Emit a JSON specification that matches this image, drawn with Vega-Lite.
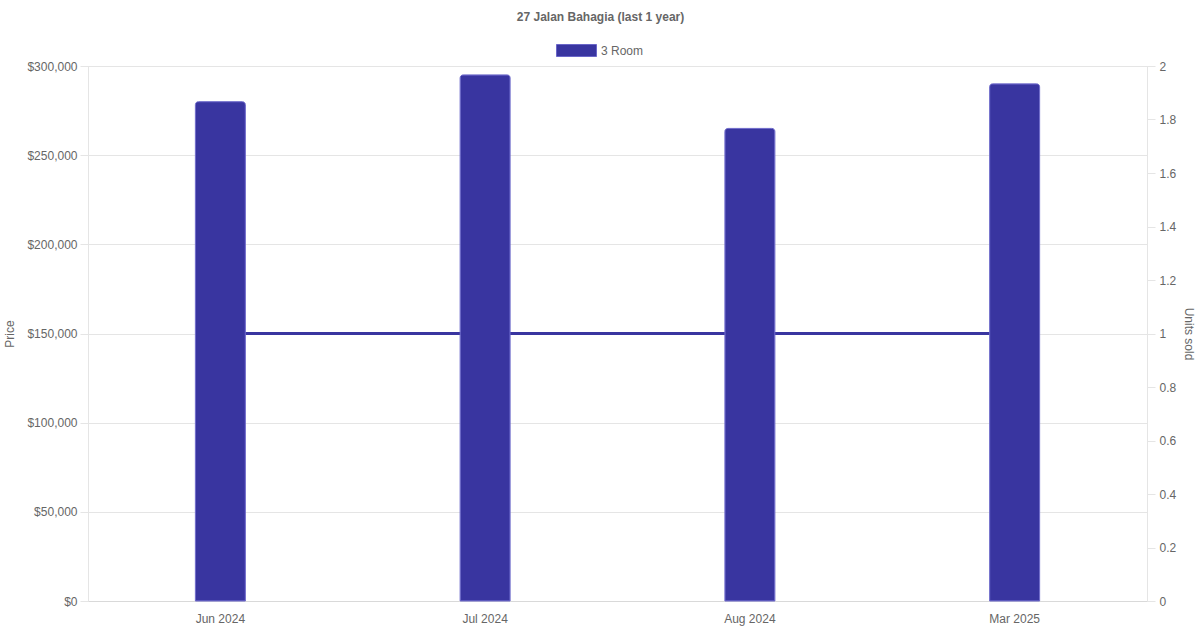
{
  "$schema": "https://vega.github.io/schema/vega-lite/v6.json",
  "description": "Price and units sold for 27 Jalan Bahagia over the last year.",
  "width": 1059,
  "height": 535,
  "autosize": {"type": "none"},
  "padding": {"left": 88, "top": 66, "right": 53, "bottom": 29},
  "background": "white",
  "title": {
    "text": "27 Jalan Bahagia (last 1 year)",
    "font": "Liberation Sans",
    "fontSize": 12,
    "fontWeight": "bold",
    "color": "#666666",
    "anchor": "middle",
    "dx": -17,
    "offset": 6
  },
  "data": {
    "values": [
      {"month": "Jun 2024", "type": "3 Room", "price": 280000, "units": 1},
      {"month": "Jul 2024", "type": "3 Room", "price": 295000, "units": 1},
      {"month": "Aug 2024", "type": "3 Room", "price": 265000, "units": 1},
      {"month": "Mar 2025", "type": "3 Room", "price": 290000, "units": 1}
    ]
  },
  "encoding": {
    "x": {
      "field": "month",
      "type": "ordinal",
      "sort": null,
      "scale": {"paddingInner": 0, "paddingOuter": 0},
      "axis": {
        "title": null,
        "labelAngle": 0,
        "ticks": false,
        "labelPadding": 12,
        "domainColor": "#d9d9d9",
        "grid": false
      }
    }
  },
  "layer": [
    {
      "mark": {"type": "line", "color": "#3935a0", "strokeWidth": 3},
      "encoding": {
        "y": {
          "field": "units",
          "type": "quantitative",
          "scale": {"domain": [0, 2], "nice": false},
          "axis": {
            "orient": "right",
            "title": "Units sold",
            "titleAngle": 90,
            "titlePadding": 6,
            "format": "~g",
            "tickCount": 10,
            "grid": false,
            "domain": true,
            "domainColor": "#e5e5e5",
            "tickColor": "#e5e5e5",
            "tickSize": 8,
            "labelPadding": 4
          }
        }
      }
    },
    {
      "mark": {
        "type": "bar",
        "size": 50,
        "cornerRadiusTopLeft": 3,
        "cornerRadiusTopRight": 3,
        "stroke": "#6a66c8",
        "strokeWidth": 1
      },
      "encoding": {
        "y": {
          "field": "price",
          "type": "quantitative",
          "scale": {"domain": [0, 300000], "nice": false},
          "axis": {
            "orient": "left",
            "title": "Price",
            "titlePadding": 10,
            "format": "$,.0f",
            "values": [0, 50000, 100000, 150000, 200000, 250000, 300000],
            "grid": true,
            "gridColor": "#e5e5e5",
            "domainColor": "#e5e5e5",
            "tickColor": "#e5e5e5",
            "tickSize": 8,
            "labelPadding": 3
          }
        },
        "color": {
          "field": "type",
          "type": "nominal",
          "scale": {"range": ["#3935a0"]},
          "legend": {
            "title": null,
            "orient": "none",
            "legendX": 468,
            "legendY": -36,
            "symbolType": "M-1,-0.3H1V0.3H-1Z",
            "symbolSize": 1600,
            "symbolStrokeColor": "#6a66c8",
            "symbolStrokeWidth": 1,
            "labelOffset": 4
          }
        }
      }
    }
  ],
  "resolve": {"scale": {"y": "independent"}},
  "config": {
    "font": "Liberation Sans",
    "view": {"stroke": "#e5e5e5"},
    "axis": {
      "labelFont": "Liberation Sans",
      "labelFontSize": 12,
      "labelColor": "#666666",
      "titleFont": "Liberation Sans",
      "titleFontSize": 12,
      "titleFontWeight": "normal",
      "titleColor": "#666666"
    },
    "legend": {
      "labelFont": "Liberation Sans",
      "labelFontSize": 12,
      "labelColor": "#666666"
    }
  }
}
